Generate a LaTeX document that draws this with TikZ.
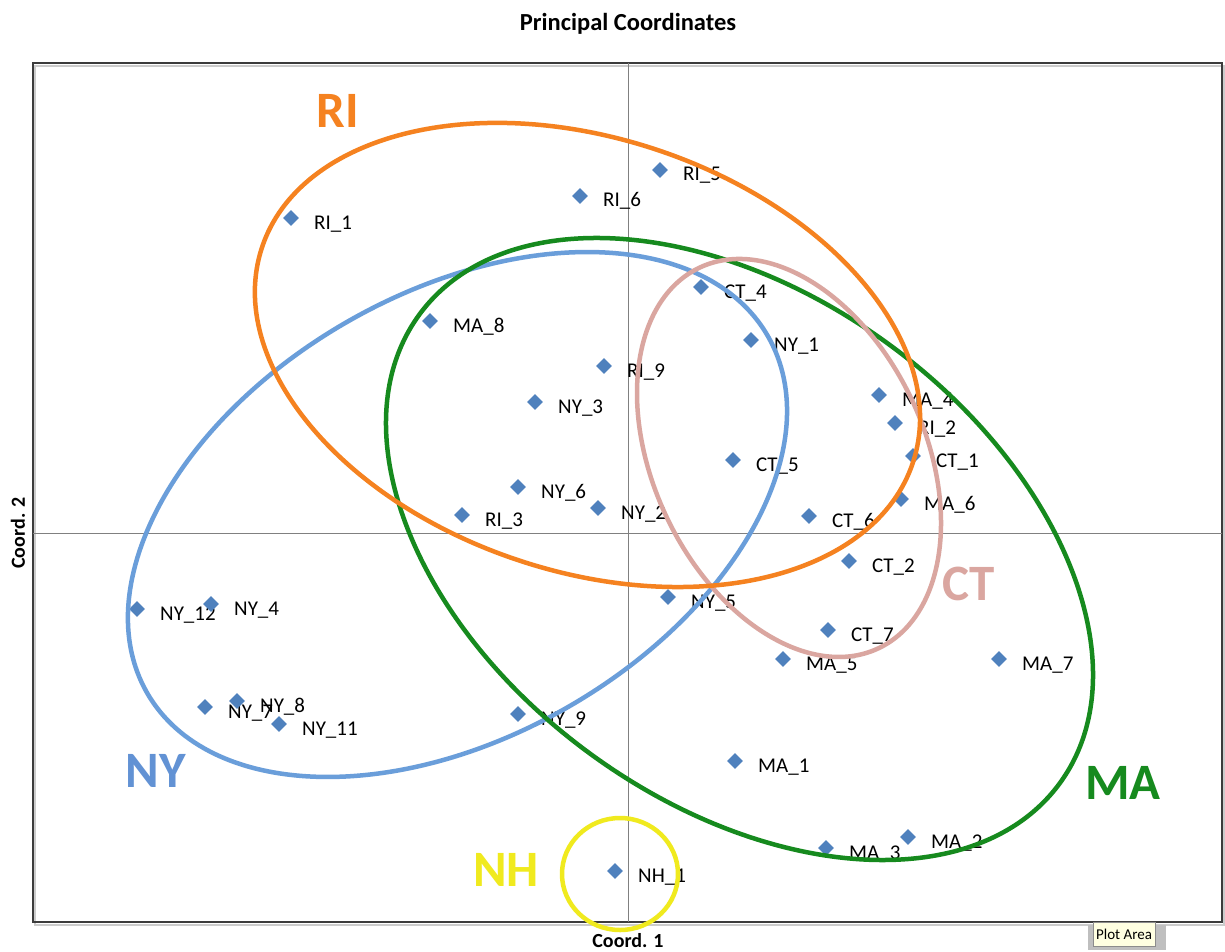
\documentclass[tikz,border=0pt]{standalone}
\usepackage{fontspec}
\setmainfont{Carlito}
\usetikzlibrary{shapes.geometric}
\definecolor{ptblue}{RGB}{79,129,189}
\definecolor{riorange}{RGB}{245,130,32}
\definecolor{nyblue}{RGB}{106,158,218}
\definecolor{nytext}{RGB}{98,146,212}
\definecolor{magreen}{RGB}{22,138,30}
\definecolor{ctpink}{RGB}{218,166,160}
\definecolor{nhyellow}{RGB}{240,234,30}
\definecolor{axisgray}{RGB}{128,128,128}
\definecolor{framegray}{RGB}{60,60,60}
\definecolor{tipfill}{RGB}{255,255,225}
\newcommand\mypoint[4]{%
  \node[dia] (#1) at (#2,#3) {};
  \node[lbl] (#1l) at (#2+23,#3+11) {#4};}
\newcommand\biglabel[5]{%
  \node[big, text=#4] (#1) at (#2,#3) {#5};}
\begin{document}
\begin{tikzpicture}[x=1pt,y=-1pt,
  dia/.style={diamond, fill=ptblue, draw=none, inner sep=0pt, minimum width=16pt, minimum height=16pt},
  lbl/.style={anchor=base west, inner sep=0pt, font=\fontsize{21}{24}\selectfont, text=black},
  big/.style={inner sep=0pt, font=\fontsize{51}{56}\selectfont\bfseries},
  ell/.style={line width=4.5pt},
  axisttl/.style={inner sep=0pt, font=\fontsize{20}{24}\selectfont\bfseries}]
\useasboundingbox (0,0) rectangle (1225,952);
\fill[white] (0,0) rectangle (1225,952);
% title and axis titles
\node[inner sep=0pt, font=\fontsize{24.5}{28}\selectfont\bfseries] (title) at (628,24) {Principal Coordinates};
\node[axisttl, rotate=90] (ylab) at (18,533) {Coord. 2};
\node[axisttl] (xlab) at (628,941) {Coord. 1};
% frame and axes
\coordinate (fNW) at (33,63);
\coordinate (fSE) at (1222,922);
\draw[black!20, line width=2pt] (35,66) rectangle (1224,925);
\draw[framegray, line width=1.8pt] (fNW) rectangle (fSE);
\coordinate (axT) at (628,63);
\coordinate (axB) at (628,922);
\coordinate (axL) at (33,533);
\coordinate (axR) at (1222,533);
\draw[axisgray, line width=0.8pt] (axT) -- (axB);
\draw[axisgray, line width=0.8pt] (axL) -- (axR);
% points
\mypoint{RI5}{660}{170}{RI\_5}
\mypoint{RI6}{580}{196}{RI\_6}
\mypoint{RI1}{291}{218}{RI\_1}
\mypoint{CT4}{701}{287}{CT\_4}
\mypoint{MA8}{430}{321}{MA\_8}
\mypoint{NY1}{751}{340}{NY\_1}
\mypoint{RI9}{604}{366}{RI\_9}
\mypoint{NY3}{535}{402}{NY\_3}
\mypoint{MA4}{879}{395}{MA\_4}
\mypoint{RI2}{895}{423}{RI\_2}
\mypoint{CT1}{913}{456}{CT\_1}
\mypoint{CT5}{733}{460}{CT\_5}
\mypoint{NY6}{518}{487}{NY\_6}
\mypoint{NY2}{598}{508}{NY\_2}
\mypoint{RI3}{462}{515}{RI\_3}
\mypoint{MA6}{901}{499}{MA\_6}
\mypoint{CT6}{809}{516}{CT\_6}
\mypoint{CT2}{849}{561}{CT\_2}
\mypoint{NY5}{668}{597}{NY\_5}
\mypoint{NY12}{137}{609}{NY\_12}
\mypoint{NY4}{211}{604}{NY\_4}
\mypoint{CT7}{828}{630}{CT\_7}
\mypoint{MA5}{783}{659}{MA\_5}
\mypoint{MA7}{999}{659}{MA\_7}
\mypoint{NY7}{205}{707}{NY\_7}
\mypoint{NY8}{237}{701}{NY\_8}
\mypoint{NY11}{279}{724}{NY\_11}
\mypoint{NY9}{518}{714}{NY\_9}
\mypoint{MA1}{735}{761}{MA\_1}
\mypoint{MA3}{826}{848}{MA\_3}
\mypoint{MA2}{908}{837}{MA\_2}
\mypoint{NH1}{615}{871}{NH\_1}
% group ellipses
\coordinate (cNY) at (457.5,514.5);
\coordinate (cMA) at (739.5,549);
\coordinate (cCT) at (789,458);
\coordinate (cRI) at (587.5,355);
\coordinate (cNH) at (620,874);
\draw[ell, nyblue, rotate around={29.9:(cNY)}] (cNY) ellipse [x radius=358pt, y radius=222pt];
\draw[ell, magreen, rotate around={-36.2:(cMA)}] (cMA) ellipse [x radius=396.8pt, y radius=253.4pt];
\draw[ell, ctpink, rotate around={-64.9:(cCT)}] (cCT) ellipse [x radius=210.3pt, y radius=135.9pt];
\draw[ell, riorange, rotate around={-18.25:(cRI)}] (cRI) ellipse [x radius=342.8pt, y radius=216.6pt];
\draw[ell, nhyellow] (cNH) ellipse [x radius=58pt, y radius=56pt];
% group labels
\biglabel{RIlab}{338}{111}{riorange}{RI}
\biglabel{NYlab}{156}{771}{nytext}{NY}
\biglabel{MAlab}{1123}{783}{magreen}{MA}
\biglabel{CTlab}{969}{584}{ctpink}{CT}
\biglabel{NHlab}{506}{870}{nhyellow}{NH}
% tooltip
\fill[black!25] (1088,925) rectangle (1166,950);
\node[draw=black!45, fill=tipfill, line width=0.6pt, inner sep=3pt, font=\fontsize{15}{17}\selectfont, minimum height=24pt] (tip) at (1124,934) {Plot Area};
\end{tikzpicture}
\end{document}
